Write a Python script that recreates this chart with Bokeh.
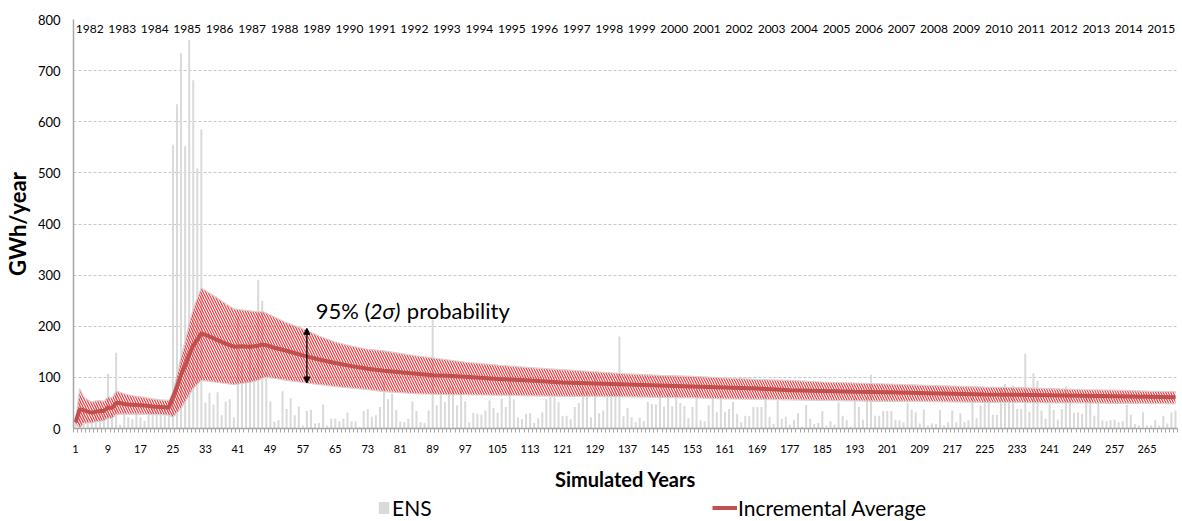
from bokeh.plotting import figure
from bokeh.layouts import column
from bokeh.models import (Range1d, FixedTicker, Legend, LegendItem, Arrow,
                          NormalHead, Label)
from bokeh.core.properties import value
from bokeh.embed import file_html
from bokeh.resources import INLINE

# ---------------- data ----------------
year_labels = ["1982", "1983", "1984", "1985", "1986", "1987", "1988", "1989",
               "1990", "1991", "1992", "1993", "1994", "1995", "1996", "1997",
               "1998", "1999", "2000", "2001", "2002", "2003", "2004", "2005",
               "2006", "2007", "2008", "2009", "2010", "2011", "2012", "2013",
               "2014", "2015"]

# ENS per simulated year (GWh/year), 8 simulated years per calendar year
ens = [
    12, 62, 34, 22, 20, 45, 40, 30,          # 1982
    107, 30, 148, 8, 35, 22, 18, 30,         # 1983
    22, 15, 35, 40, 38, 45, 42, 48,          # 1984
    555, 634, 734, 552, 760, 681, 509, 585,  # 1985
    51, 70, 47, 71, 26, 53, 57, 22,          # 1986
    220, 130, 95, 180, 120, 291, 250, 110,   # 1987
    53, 13, 16, 73, 38, 59, 26, 43,          # 1988
    6, 34, 36, 10, 11, 47, 6, 19,            # 1989
    19, 14, 19, 31, 14, 14, 3, 34,           # 1990
    38, 23, 26, 42, 94, 57, 68, 36,          # 1991
    13, 12, 19, 53, 34, 12, 11, 35,          # 1992
    213, 45, 68, 52, 81, 81, 45, 81,         # 1993
    53, 12, 31, 29, 27, 35, 55, 40,          # 1994
    31, 58, 42, 113, 57, 22, 18, 29,         # 1995
    30, 11, 20, 32, 57, 61, 61, 52,          # 1996
    24, 25, 18, 42, 50, 81, 74, 22,          # 1997
    104, 30, 35, 63, 74, 81, 180, 24,        # 1998
    40, 22, 12, 21, 14, 52, 48, 47,          # 1999
    74, 43, 68, 43, 74, 50, 44, 20,          # 2000
    42, 74, 16, 14, 45, 58, 32, 65,          # 2001
    32, 38, 52, 29, 12, 25, 24, 42,          # 2002
    42, 42, 74, 23, 9, 55, 19, 23,           # 2003
    8, 16, 30, 4, 46, 19, 9, 11,             # 2004
    34, 6, 14, 8, 51, 25, 16, 4,             # 2005
    62, 42, 17, 61, 105, 25, 25, 34,         # 2006
    34, 34, 17, 16, 12, 51, 37, 32,          # 2007
    10, 37, 6, 10, 9, 36, 6, 12,             # 2008
    35, 12, 30, 12, 16, 61, 20, 45,          # 2009
    61, 61, 27, 27, 81, 87, 61, 84,          # 2010
    38, 38, 146, 33, 108, 94, 35, 19,        # 2011
    48, 36, 17, 38, 82, 61, 31, 32,          # 2012
    29, 61, 61, 25, 51, 16, 14, 16,          # 2013
    17, 12, 14, 46, 27, 9, 6, 32,            # 2014
    6, 6, 16, 6, 25, 10, 32, 35,             # 2015
]
sim_years = list(range(1, len(ens) + 1))

# incremental average and its 95% band, read at these simulated years
avg_years = [1, 2, 3, 4, 5, 6, 7, 8, 9, 10, 11, 12, 13, 14, 16, 18, 20, 22, 24,
             25, 26, 27, 28, 29, 30, 31, 32, 34, 36, 38, 40, 42, 44, 46, 47, 48,
             50, 53, 57, 61, 65, 69, 73, 77, 81, 85, 89, 93, 97, 105, 113, 121,
             129, 137, 145, 153, 161, 169, 177, 185, 193, 201, 209, 217, 225,
             233, 241, 249, 257, 265, 272]
avg_ens = [12, 37, 36, 33, 31, 33, 34, 34, 41, 40, 50, 50, 48, 47, 46, 45, 43, 42, 41,
           61, 83, 106, 123, 145, 162, 174, 186, 180, 173, 166, 160, 161, 160, 162, 164, 163,
           158, 152, 143, 135, 128, 122, 117, 113, 110, 107, 104, 103, 101, 97, 94, 90,
           88, 86, 84, 82, 80, 78, 75, 73.5, 72, 71, 69.5, 68, 66.5,
           66, 65, 64, 63, 62, 61]
band_upper = [14, 78, 62, 56, 52, 54, 55, 53, 62, 60, 73, 71, 68, 66, 63, 61, 58, 56, 55,
              70, 105, 140, 170, 205, 235, 255, 275, 265, 255, 244, 234, 232, 230, 228, 229, 226,
              218, 207, 195, 181, 169, 161, 155, 152, 147, 142, 138, 134, 130, 124, 119, 115,
              111, 107, 104, 102, 99, 96, 94, 91, 89, 87, 85, 83, 81,
              80, 78, 76, 75, 73, 72]
band_lower = [10, 0, 10, 11, 11, 13, 14, 15, 20, 20, 27, 28, 28, 28, 28, 28, 27, 27, 26,
              22, 30, 40, 52, 65, 78, 86, 94, 92, 90, 88, 86, 88, 90, 94, 98, 100,
              98, 94, 90, 86, 82, 79, 76, 72, 70, 68, 67, 66, 66, 65, 64, 63,
              63, 62, 61, 60, 58, 57, 56, 55, 54, 53, 53, 52, 51,
              51, 50, 50, 49, 49, 48]

y_ticks = [0, 100, 200, 300, 400, 500, 600, 700, 800]
x_label_ticks = list(range(1, 272, 8))

FONT = "Lato"
BAR_COLOR = "#DADADA"
AVG_COLOR = "#C0504D"

# ---------------- main figure ----------------
p = figure(width=1180, height=493, x_range=Range1d(0.5, 272.5),
           y_range=Range1d(0, 800), output_backend="svg", toolbar_location=None,
           min_border_left=70, min_border_right=3, min_border_top=19,
           min_border_bottom=65)
p.outline_line_color = None
p.background_fill_color = "white"

p.xgrid.visible = False
p.ygrid.ticker = FixedTicker(ticks=y_ticks)
p.ygrid.grid_line_color = "#C8C8C8"
p.ygrid.grid_line_dash = "3 2"
p.ygrid.grid_line_width = 1

# y axis
p.yaxis.ticker = FixedTicker(ticks=y_ticks)
p.yaxis.axis_line_color = "#A6A6A6"
p.yaxis.axis_line_width = 1.5
p.yaxis.major_tick_line_color = None
p.yaxis.minor_tick_line_color = None
p.yaxis.major_tick_out = 0
p.yaxis.major_label_standoff = 13
p.yaxis.major_label_text_font = FONT
p.yaxis.major_label_text_font_size = "13px"
p.yaxis.major_label_text_color = "black"
p.yaxis.axis_label = "GWh/year"
p.yaxis.axis_label_text_font = FONT
p.yaxis.axis_label_text_font_style = "bold"
p.yaxis.axis_label_text_font_size = "22px"
p.yaxis.axis_label_text_color = "black"
p.yaxis.axis_label_standoff = 4

# x axis
p.xaxis.ticker = FixedTicker(ticks=x_label_ticks,
                             minor_ticks=[i + 0.5 for i in range(0, 273)])
p.xaxis.axis_line_color = "#A6A6A6"
p.xaxis.axis_line_width = 1.5
p.xaxis.major_tick_line_color = None
p.xaxis.major_tick_out = 0
p.xaxis.major_tick_in = 0
p.xaxis.minor_tick_line_color = "#A6A6A6"
p.xaxis.minor_tick_out = 4
p.xaxis.minor_tick_in = 0
p.xaxis.major_label_standoff = 12
p.xaxis.major_label_text_font = FONT
p.xaxis.major_label_text_font_size = "11px"
p.xaxis.major_label_text_color = "black"
p.xaxis.axis_label = "Simulated Years"
p.xaxis.axis_label_text_font = FONT
p.xaxis.axis_label_text_font_style = "bold"
p.xaxis.axis_label_text_font_size = "20px"
p.xaxis.axis_label_text_color = "black"
p.xaxis.axis_label_standoff = 11

# bars
p.vbar(x=sim_years, top=ens, bottom=0, width=0.5,
       fill_color=BAR_COLOR, line_color=None)

# 95% band (hatched)
p.varea(x=avg_years, y1=band_lower, y2=band_upper, fill_alpha=0,
        hatch_pattern="\\", hatch_color="#E8262B", hatch_scale=5,
        hatch_weight=1.2, hatch_alpha=0.9)
p.line(avg_years, band_upper, line_color="#D4D4D4", line_width=1.2)
p.line(avg_years, band_lower, line_color="#D4D4D4", line_width=1.2)

# incremental average
p.line(avg_years, avg_ens, line_color=AVG_COLOR, line_width=4)

# calendar year labels along the top
p.text(x=[8 * i + 4.5 for i in range(len(year_labels))],
       y=[782] * len(year_labels), text=year_labels,
       text_font=value(FONT), text_font_size="12px", text_align="center",
       text_baseline="middle", text_color="black")

# double arrow + annotation
p.add_layout(Arrow(start=NormalHead(size=6, fill_color="black", line_color="black"),
                   end=NormalHead(size=6, fill_color="black", line_color="black"),
                   x_start=58, y_start=89, x_end=58, y_end=196,
                   line_color="black", line_width=1.3))
ann_x, ann_y = 60.2, 231
p.add_layout(Label(x=ann_x, y=ann_y, text="95% (", text_font=FONT,
                   text_font_size="22px", text_baseline="middle",
                   text_color="black"))
p.add_layout(Label(x=ann_x, y=ann_y, x_offset=54, text="2σ)", text_font=FONT,
                   text_font_size="22px", text_font_style="italic",
                   text_baseline="middle", text_color="black"))
p.add_layout(Label(x=ann_x, y=ann_y, x_offset=91, text="probability",
                   text_font=FONT, text_font_size="22px",
                   text_baseline="middle", text_color="black"))

# ---------------- legend strip (frame aligned with the main frame) ----------------
lp = figure(width=1180, height=27, x_range=Range1d(0, 1), y_range=Range1d(0, 1),
            output_backend="svg", toolbar_location=None, x_axis_type=None,
            y_axis_type=None, min_border=0)
lp.outline_line_color = None
lp.grid.visible = False
# key glyphs placed outside the visible range: only their legend swatches show
ens_key = lp.quad(left=[5], right=[6], bottom=[0], top=[1],
                  fill_color=BAR_COLOR, line_color=None)
avg_key = lp.line(x=[5, 6], y=[0.5, 0.5], line_color=AVG_COLOR, line_width=4)

leg_common = dict(orientation="horizontal", border_line_color=None,
                  background_fill_alpha=0, padding=0, margin=0,
                  label_text_font=FONT, label_text_font_size="21px",
                  label_text_color="black")
lp.add_layout(Legend(items=[LegendItem(label="ENS", renderers=[ens_key])],
                     location=(304, 0), glyph_width=13, glyph_height=15,
                     label_standoff=2, **leg_common))
lp.add_layout(Legend(items=[LegendItem(label="Incremental Average", renderers=[avg_key])],
                     location=(639, 0), glyph_width=25, glyph_height=15,
                     label_standoff=1, **leg_common))

open("out.html", "w").write(file_html(column(p, lp, spacing=0), INLINE))
